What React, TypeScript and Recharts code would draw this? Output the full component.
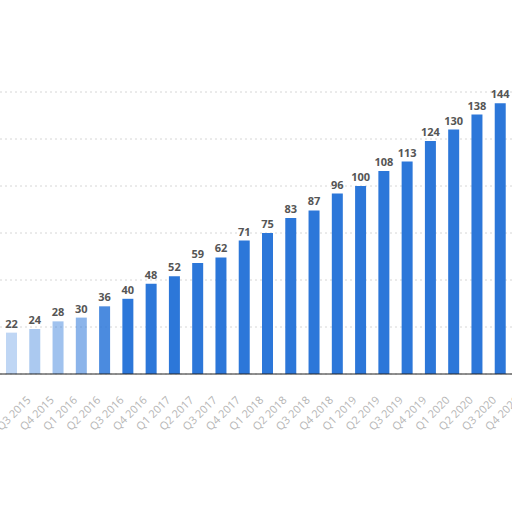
import { BarChart, Bar, XAxis, YAxis, CartesianGrid, LabelList, Cell } from 'recharts';

const quarters = [
    'Q3 2015', 'Q4 2015',
    'Q1 2016', 'Q2 2016', 'Q3 2016', 'Q4 2016',
    'Q1 2017', 'Q2 2017', 'Q3 2017', 'Q4 2017',
    'Q1 2018', 'Q2 2018', 'Q3 2018', 'Q4 2018',
    'Q1 2019', 'Q2 2019', 'Q3 2019', 'Q4 2019',
    'Q1 2020', 'Q2 2020', 'Q3 2020', 'Q4 2020',
];

const values = [22, 24, 28, 30, 36, 40, 48, 52, 59, 62, 71, 75, 83, 87, 96, 100, 108, 113, 124, 130, 138, 144];

const yTicks = [0, 25, 50, 75, 100, 125, 150];

// the first bars are washed out in the reference
const fades = [0.3, 0.4, 0.45, 0.55, 0.85];

const data = quarters.map((q, i) => ({ quarter: q, value: values[i] }));

const QuarterTick = (props: any) => {
    const { x, y, payload } = props;
    return (
        <g transform={`translate(${x + 17},${y + 16})`}>
            <text transform="rotate(-45)" textAnchor="end" fontSize={11} fill="#b5b5b5" dy={4}>
                {payload.value}
            </text>
        </g>
    );
};

export default function App() {
    return (
        <div style={{ position: 'absolute', left: 0, top: 0, width: 512, height: 512, background: '#fff', fontFamily: '"Open Sans", sans-serif' }}>
            <BarChart width={512} height={512} data={data} margin={{ top: 92, right: 0, bottom: 0, left: 0 }} barCategoryGap={6}>
                <CartesianGrid vertical={false} strokeDasharray="2 3" stroke="#d6d6d6" />
                <YAxis hide domain={[0, 150]} ticks={yTicks} />
                <XAxis
                    dataKey="quarter"
                    height={138}
                    interval={0}
                    tickLine={false}
                    axisLine={{ stroke: '#222' }}
                    tick={<QuarterTick />}
                />
                <Bar dataKey="value" fill="#2c77d9" isAnimationActive={false}>
                    {data.map((d, i) => (
                        <Cell key={d.quarter} fillOpacity={i < fades.length ? fades[i] : 1} />
                    ))}
                    <LabelList dataKey="value" position="top" offset={5} fill="#555" fontSize={11} fontWeight="bold" />
                </Bar>
            </BarChart>
        </div>
    );
}
